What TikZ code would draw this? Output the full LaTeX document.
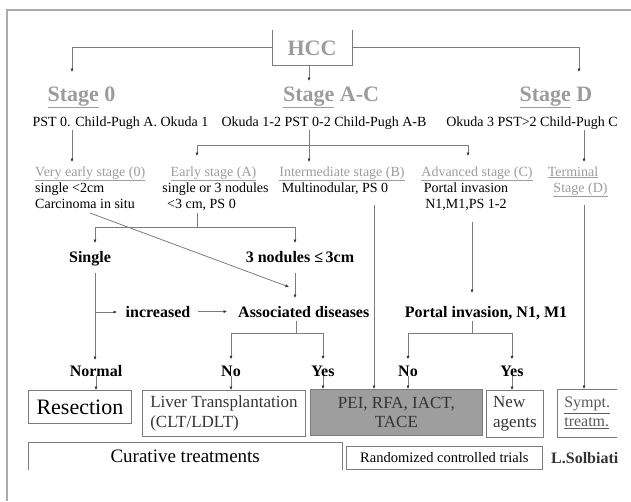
\documentclass[tikz,border=0pt]{standalone}
\usepackage{fontspec}
\setmainfont{Liberation Serif}
\usetikzlibrary{arrows.meta}
\definecolor{hgray}{HTML}{9C9C9C}
\definecolor{lgray}{HTML}{7C7C7C}
\definecolor{bgray}{HTML}{9E9E9E}
\definecolor{fgray}{HTML}{ABABAB}
\definecolor{dgray}{HTML}{333333}
\definecolor{sgray}{HTML}{5A5A5A}
\newcommand\gul[1]{\underline{#1}}
\tikzset{
  line/.style={draw=lgray, line width=0.8pt},
  arr/.style={line, -{Latex[length=3.5pt,width=3.2pt,color=dgray]}},
  hd/.style={text=hgray, font=\bfseries\fontsize{22}{26}\selectfont, inner sep=0pt},
  sub/.style={text=hgray, font=\fontsize{14}{16}\selectfont, inner sep=0pt},
  txt/.style={font=\fontsize{14}{16}\selectfont, inner sep=0pt},
  lbl/.style={font=\bfseries\fontsize{16}{19}\selectfont, inner sep=0pt},
  box/.style={draw=lgray, line width=0.8pt},
  tolbl/.style={arr, shorten >=6pt}
}
\begin{document}
\begin{tikzpicture}[x=1pt,y=-1pt]
\useasboundingbox (0,0) rectangle (631,501);
% outer frame
\draw[draw=fgray, line width=2pt] (7,501) -- (7,10) -- (631,10);

% HCC
\node[hd, anchor=base] (hcc) at (312,55) {HCC};
\coordinate (hnw) at (272,30); \coordinate (hsw) at (272,65);
\coordinate (hse) at (352,65); \coordinate (hne) at (352,30);
\draw[line] (hnw) -- (hsw) -- (hse) -- (hne);
\coordinate (hl) at (272,47); \coordinate (hr) at (352,47); \coordinate (hb) at (309,65);
\coordinate (s0in) at (72,72); \coordinate (sDin) at (579,72); \coordinate (sACin) at (309,81);
\draw[arr] (hl) -| (s0in);
\draw[arr] (hr) -| (sDin);
\draw[arr] (hb) -- (sACin);

% stages
\node[hd, anchor=base] (s0) at (81.5,101) {\gul{Stage} 0};
\node[hd, anchor=base] (sac) at (331,101) {\gul{Stage} A-C};
\node[hd, anchor=base] (sd) at (556,101) {\gul{Stage} D};
\node[txt, anchor=base] (p0) at (120.5,126) {PST 0. Child-Pugh A. Okuda 1};
\node[txt, anchor=base] (pac) at (324,126) {Okuda 1-2 PST 0-2 Child-Pugh A-B};
\node[txt, anchor=base] (pd) at (532,126) {Okuda 3 PST>2 Child-Pugh C};

% stage connectors
\coordinate (p0o) at (72,130); \coordinate (vein) at (72,162);
\draw[arr] (p0o) -- (vein);
\coordinate (paco) at (309,130); \coordinate (pacj) at (309,145);
\coordinate (eaj) at (197,145); \coordinate (adj) at (468,145);
\coordinate (eain) at (197,156); \coordinate (imin) at (309,162); \coordinate (adin) at (468,156);
\draw[line] (paco) -- (pacj);
\draw[line] (eaj) -- (adj);
\draw[arr] (eaj) -- (eain);
\draw[arr] (pacj) -- (imin);
\draw[arr] (adj) -- (adin);
\coordinate (pdo) at (584,130); \coordinate (tein) at (584,162);
\draw[arr] (pdo) -- (tein);

% sub-stages
\node[sub, anchor=base west] (ve) at (35,176) {\gul{Very early stage (0)}};
\node[txt, anchor=base west] (ve2) at (35,192) {single <2cm};
\node[txt, anchor=base west] (ve3) at (35,208) {Carcinoma in situ};
\node[sub, anchor=base] (ea) at (213.5,176) {\gul{Early stage (A)}};
\node[txt, anchor=base] (ea2) at (215.5,192) {single or 3 nodules};
\node[txt, anchor=base west] (ea3) at (167,208) {<3 cm, PS 0};
\node[sub, anchor=base] (im) at (342,176) {\gul{Intermediate stage (B)}};
\node[txt, anchor=base] (im2) at (335,192) {Multinodular, PS 0};
\node[sub, anchor=base] (ad) at (477,176) {\gul{Advanced stage (C)}};
\node[txt, anchor=base] (ad2) at (466,192) {Portal invasion};
\node[txt, anchor=base] (ad3) at (466,208) {N1,M1,PS 1-2};
\node[sub, anchor=base] (te) at (573,176) {\gul{Terminal}};
\node[sub, anchor=base] (te2) at (580.5,192) {\gul{Stage (D)}};

% bold labels
\node[lbl, anchor=base] (single) at (90,262) {Single};
\node[lbl, anchor=base] (three) at (300,262) {3 nodules ≤\,3cm};
\node[lbl, anchor=base] (inc) at (158,317) {increased};
\node[lbl, anchor=base west] (assoc) at (238,317) {Associated diseases};
\node[lbl, anchor=base] (portal) at (486,317) {Portal invasion, N1, M1};
\node[lbl, anchor=base] (normal) at (96,376) {Normal};
\node[lbl, anchor=base] (no1) at (231,376) {No};
\node[lbl, anchor=base] (yes1) at (323,376) {Yes};
\node[lbl, anchor=base] (no2) at (408,376) {No};
\node[lbl, anchor=base] (yes2) at (512,376) {Yes};

% early stage branch
\coordinate (ebo) at (197,213); \coordinate (ebj) at (197,227);
\coordinate (ebl) at (95,227); \coordinate (ebr) at (295,227);
\coordinate (singin) at (95,243); \coordinate (threein) at (295,243);
\draw[line] (ebo) -- (ebj);
\draw[line] (ebl) -- (ebr);
\draw[arr] (ebl) -- (singin);
\draw[arr] (ebr) -- (threein);
% diagonal from very early
\coordinate (vediag) at (90,213); \coordinate (diagin) at (289,287);
\draw[arr] (vediag) -- (diagin);
% single
\coordinate (singout) at (95,273); \coordinate (normin) at (95,360);
\draw[arr] (singout) -- (normin);
\coordinate (incj) at (95,312); \coordinate (incin) at (117,312);
\draw[arr] (incj) -- (incin);
\draw[arr, shorten <=8pt, shorten >=11pt] (inc.east) -- (inc.east -| assoc.west);
% 3 nodules
\coordinate (threeout) at (295,273); \coordinate (associn) at (295,298);
\draw[arr] (threeout) -- (associn);
% associated diseases branch
\coordinate (ab) at (296,321); \coordinate (abj) at (296,333);
\draw[line] (ab) -- (abj);
\draw[tolbl] (abj) -| (no1.north);
\draw[tolbl] (abj) -| (yes1.north);
% advanced
\coordinate (ado) at (472,222); \coordinate (portin) at (472,293);
\draw[arr] (ado) -- (portin);
\coordinate (pb) at (472,321); \coordinate (pbj) at (472,333);
\draw[line] (pb) -- (pbj);
\draw[tolbl] (pbj) -| (no2.north);
\draw[tolbl] (pbj) -| (yes2.north);

% boxes
\node[box, anchor=north west, minimum width=103, minimum height=33, inner sep=0pt,
      font=\fontsize{22}{26}\selectfont] (res) at (28,390) {Resection};
\node[box, anchor=north west, minimum width=163, minimum height=46, inner sep=0pt, align=left,
      text=dgray, font=\fontsize{17}{20}\selectfont] (lt) at (142,390) {Liver Transplantation\\(CLT/LDLT)};
\node[box, fill=bgray, anchor=north west, minimum width=172, minimum height=46, inner sep=0pt, align=center,
      text=dgray, font=\fontsize{17}{19}\selectfont] (pei) at (310,389) {PEI, RFA, IACT,\\TACE};
\node[box, anchor=north west, minimum width=57, minimum height=47, inner sep=0pt, align=left,
      text=dgray, font=\fontsize{17}{20}\selectfont] (na) at (486,390) {New\\agents};
\node[anchor=north west, minimum width=60, minimum height=48, inner sep=0pt, align=left,
      text=sgray, font=\fontsize{16}{19}\selectfont] (sy) at (557,389) {\gul{Sympt.}\\\gul{treatm.}};
\draw[line] (sy.north east) -- (sy.north west) -- (sy.south west) -- (sy.south east);

% intermediate and terminal long arrows
\coordinate (imo) at (374,205);
\draw[arr] (imo) -- (imo |- pei.north);
\coordinate (teo) at (584,205);
\draw[arr] (teo) -- (teo |- sy.north);

% label to box arrows
\draw[arr] (normal.south) -- (normal.south |- res.north);
\draw[arr] (no1.south) -- (no1.south |- lt.north);
\draw[arr] (yes1.south) -- (yes1.south |- pei.north);
\draw[arr] (no2.south) -- (no2.south |- pei.north);
\draw[arr] (yes2.south) -- (yes2.south |- na.north);

% bottom row
\node[anchor=north west, minimum width=314, minimum height=28, inner sep=0pt,
      font=\fontsize{19}{22}\selectfont] (cur) at (28,442) {Curative treatments};
\draw[line] (cur.south west) -- (cur.north west) -- (cur.north east) -- (cur.south east);
\node[box, anchor=north west, minimum width=196, minimum height=23, inner sep=0pt,
      font=\fontsize{14.5}{17}\selectfont] (rct) at (346,446) {Randomized controlled trials};
\node[lbl, text=dgray, anchor=base west] (sol) at (551,463) {L.Solbiati};
\end{tikzpicture}
\end{document}
